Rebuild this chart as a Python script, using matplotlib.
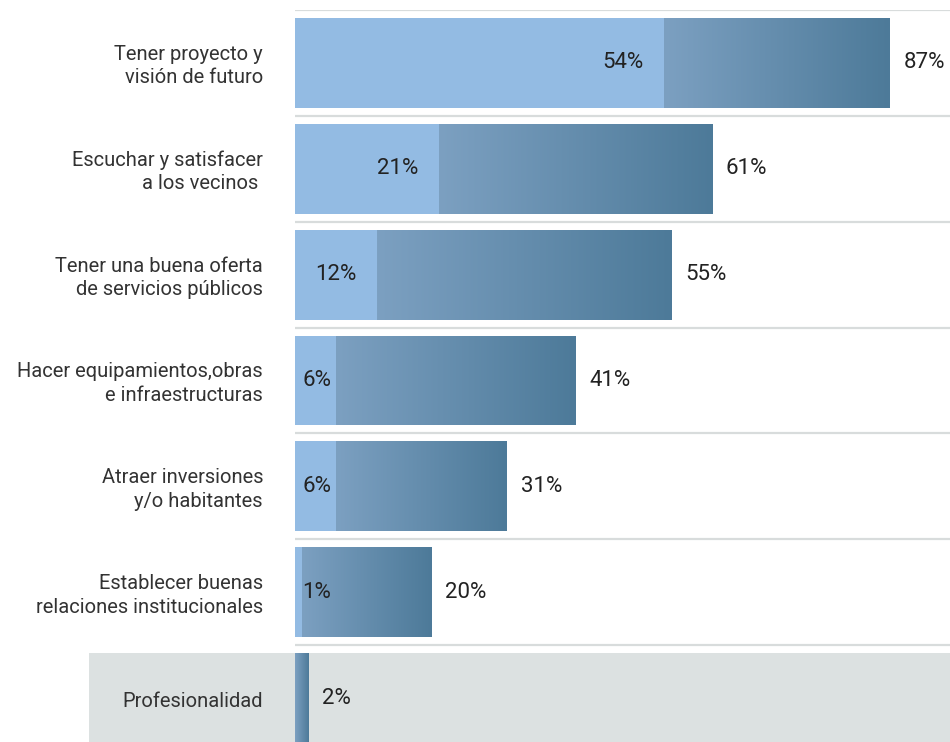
import matplotlib
matplotlib.use('Agg')
import matplotlib.pyplot as plt
from matplotlib.colors import LinearSegmentedColormap
from matplotlib.patches import Rectangle
import numpy as np

labels = ['Tener proyecto y\nvisión de futuro',
          'Escuchar y satisfacer\na los vecinos ',
          'Tener una buena oferta\nde servicios públicos',
          'Hacer equipamientos,obras\ne infraestructuras',
          'Atraer inversiones\ny/o habitantes',
          'Establecer buenas\nrelaciones institucionales',
          'Profesionalidad']
first = [54, 21, 12, 6, 6, 1, 0]
total = [87, 61, 55, 41, 31, 20, 2]

plt.rcParams['font.family'] = ['Roboto', 'DejaVu Sans']

fig = plt.figure(figsize=(9.5, 7.42), dpi=100)
ax = fig.add_axes([295 / 950, 0, 1 - 295 / 950, 1 - 10 / 742])

light = '#93bbe3'
grad = LinearSegmentedColormap.from_list('g', ['#7ca0c1', '#4d7a99'])
h = 0.85
y = np.arange(len(labels))

# grey band behind the last row
ax.add_patch(Rectangle((-206 / 655, 6 - h / 2), 1 + 206 / 655, 1,
                       transform=ax.get_yaxis_transform(), color='#dce1e1',
                       clip_on=False, zorder=0, linewidth=0))

# separators
for b in np.arange(-0.5, 6, 1):
    ax.axhline(b, color='#d8dcdc', lw=1.6, zorder=1)

dark = ax.barh(y, total, height=h, color='#4d7a99', zorder=2)
img = np.linspace(0, 1, 256).reshape(1, -1)
for i, p in enumerate(dark.patches):
    im = ax.imshow(img, cmap=grad, aspect='auto', zorder=3,
                   extent=[first[i], total[i], i + h / 2, i - h / 2])
    im.set_clip_path(p)
ax.barh(y, first, height=h, color=light, zorder=4)

for i in range(len(labels)):
    ax.text(total[i] + 2, i, f'{total[i]}%', va='center', ha='left',
            fontsize=16, color='#222222', zorder=5)
    if first[i] > 0:
        if first[i] >= 10:
            ax.text(first[i] - 3, i, f'{first[i]}%', va='center', ha='right',
                    fontsize=16, color='#222222', zorder=5)
        else:
            ax.text(1.1, i, f'{first[i]}%', va='center', ha='left',
                    fontsize=16, color='#222222', zorder=5)
    ax.text(-32 / 655, i + 0.03, labels[i], transform=ax.get_yaxis_transform(),
            va='center', ha='right', fontsize=14.5, color='#333333',
            linespacing=1.3, zorder=5)

ax.set_xlim(0, 655 / 6.84)
ax.set_ylim(6 + 44 / 106, -0.5)
ax.axis('off')

plt.savefig('out.png', dpi=100)
